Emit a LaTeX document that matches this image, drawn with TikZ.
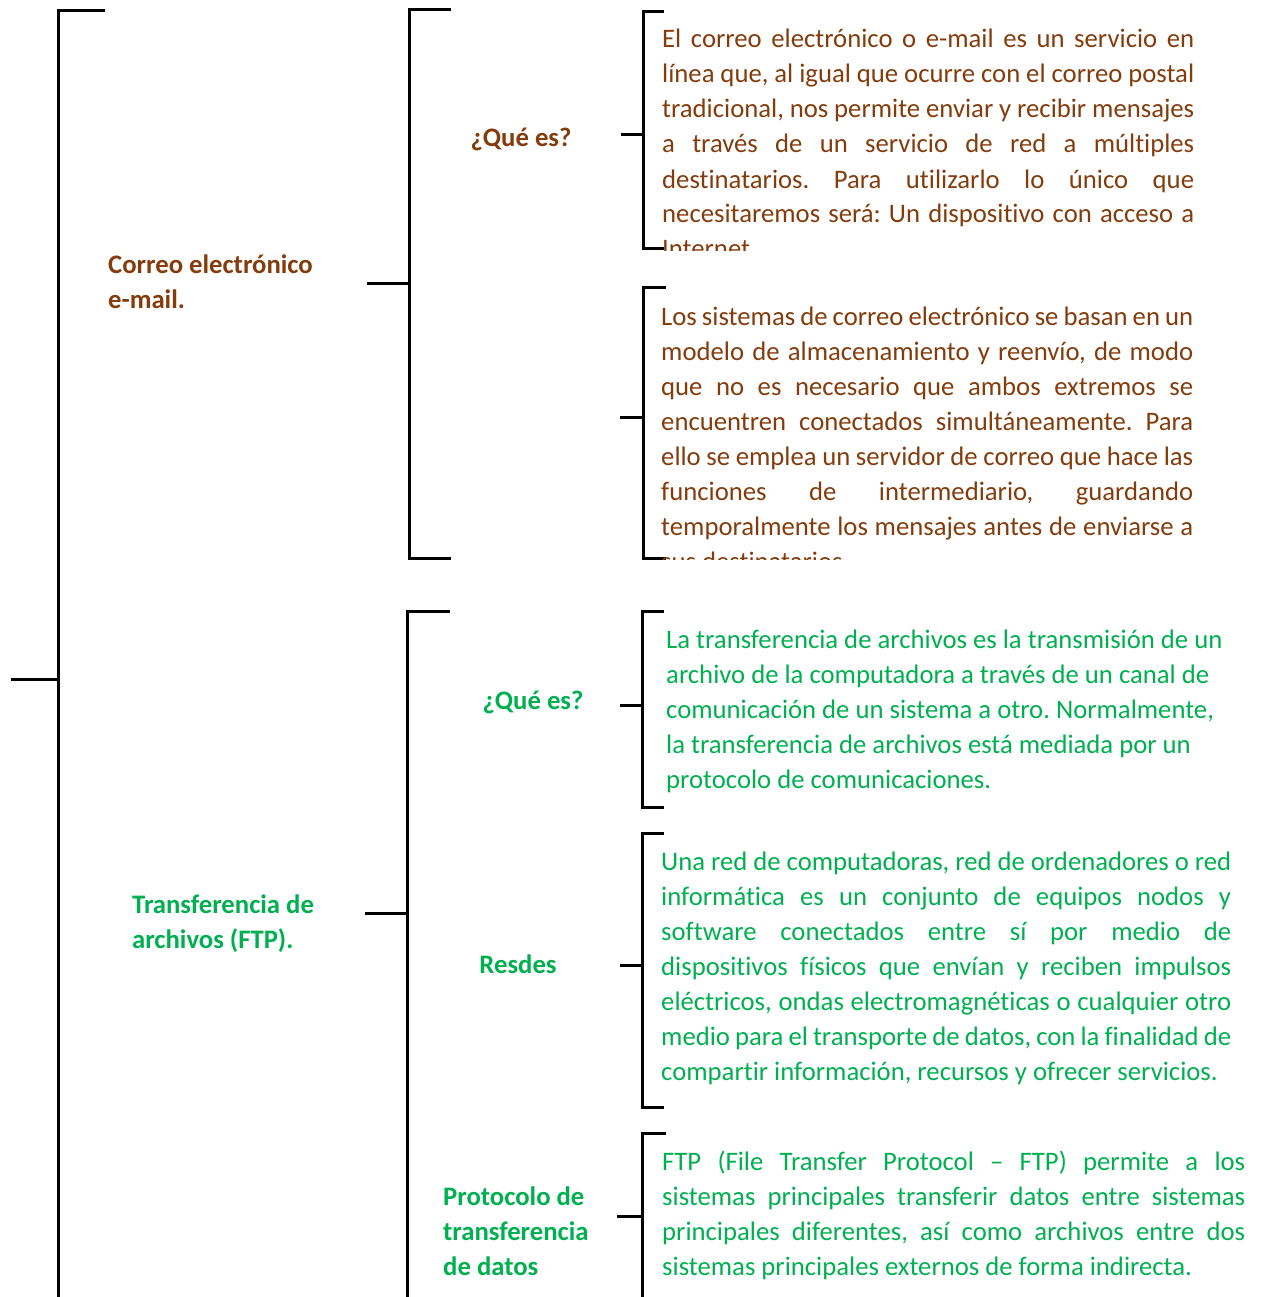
\documentclass[tikz,border=0pt]{standalone}
\usepackage{fontspec}
\setmainfont{Carlito}[Ligatures=NoCommon]
\frenchspacing
\definecolor{brn}{HTML}{843C0C}
\definecolor{grn}{HTML}{00B050}
\newcommand{\jl}[2]{\makebox[#1][s]{#2}}
\tikzset{
  br/.style={line width=3pt, black},
  para/.style={anchor=base west, inner sep=0pt, align=left, font=\fontsize{26.7}{35}\selectfont},
  head/.style={inner sep=0pt, align=left, font=\fontsize{26.7}{35}\selectfont\bfseries},
}
\begin{document}
\begin{tikzpicture}[x=1pt,y=-1pt]
\useasboundingbox (0,0) rectangle (1261,1297);
% ---------- brackets ----------
% main
\coordinate (m0) at (11,679);
\draw[br] (105,11) -- (58,11) -- (58,1300);
\draw[br] (m0) -- (58,679);
% correo
\draw[br] (451,10) -- (409,10) -- (409,558) -- (451,558);
\draw[br] (367,283) -- (409,283);
% que es 1
\draw[br] (664,12) -- (643,12) -- (643,248) -- (664,248);
\draw[br] (621,135) -- (643,135);
% modelo
\draw[br] (666,287) -- (643,287) -- (643,558) -- (666,558);
\draw[br] (620,417) -- (643,417);
% FTP
\draw[br] (450,611) -- (407,611) -- (407,1300);
\draw[br] (365,913) -- (407,913);
% que es 2
\draw[br] (664,611) -- (642,611) -- (642,807) -- (664,807);
\draw[br] (620,705) -- (642,705);
% redes
\draw[br] (664,833) -- (642,833) -- (642,1107) -- (664,1107);
\draw[br] (620,965) -- (642,965);
% protocolo
\draw[br] (666,1133) -- (642,1133) -- (642,1300);
\draw[br] (617,1216) -- (642,1216);

% ---------- headings (anchor = baseline of last line) ----------
\node[head, text=brn, anchor=base west] (h1) at (108,308) {Correo electrónico\\e-mail.};
\node[head, text=brn, anchor=base] (q1) at (521,147) {¿Qué es?};
\node[head, text=grn, anchor=base west] (h2) at (132,948) {Transferencia de\\archivos (FTP).};
\node[head, text=grn, anchor=base] (q2) at (533,709) {¿Qué es?};
\node[head, text=grn, anchor=base] (q3) at (518,973) {Resdes};
\node[head, text=grn, anchor=base west] (q4) at (443,1275) {Protocolo de\\transferencia\\de datos};

% ---------- paragraphs (anchor = baseline of last line) ----------
\begin{scope}
\clip (600,0) rectangle (1261,250);
\node[para, text=brn] (p1) at (662,258) {%
\jl{532pt}{El correo electrónico o e-mail es un servicio en}\\
\jl{532pt}{línea que, al igual que ocurre con el correo postal}\\
\jl{532pt}{tradicional, nos permite enviar y recibir mensajes}\\
\jl{532pt}{a través de un servicio de red a múltiples}\\
\jl{532pt}{destinatarios. Para utilizarlo lo único que}\\
\jl{532pt}{necesitaremos será: Un dispositivo con acceso a}\\
Internet};
\end{scope}

\begin{scope}
\clip (600,260) rectangle (1261,559);
\node[para, text=brn] (p2) at (661,570) {%
\jl{532pt}{Los sistemas de correo electrónico se basan en un}\\
\jl{532pt}{modelo de almacenamiento y reenvío, de modo}\\
\jl{532pt}{que no es necesario que ambos extremos se}\\
\jl{532pt}{encuentren conectados simultáneamente. Para}\\
\jl{532pt}{ello se emplea un servidor de correo que hace las}\\
\jl{532pt}{funciones de intermediario, guardando}\\
\jl{532pt}{temporalmente los mensajes antes de enviarse a}\\
sus destinatarios.};
\end{scope}

\node[para, text=grn] (p3) at (666,788) {%
La transferencia de archivos es la transmisión de un\\
archivo de la computadora a través de un canal de\\
comunicación de un sistema a otro. Normalmente,\\
la transferencia de archivos está mediada por un\\
protocolo de comunicaciones.};

\node[para, text=grn] (p4) at (661,1080) {%
\jl{570pt}{Una red de computadoras, red de ordenadores o red}\\
\jl{570pt}{informática es un conjunto de equipos nodos y}\\
\jl{570pt}{software conectados entre sí por medio de}\\
\jl{570pt}{dispositivos físicos que envían y reciben impulsos}\\
\jl{570pt}{eléctricos, ondas electromagnéticas o cualquier otro}\\
\jl{570pt}{medio para el transporte de datos, con la finalidad de}\\
compartir información, recursos y ofrecer servicios.};

\node[para, text=grn] (p5) at (662,1275) {%
\jl{583pt}{FTP (File Transfer Protocol – FTP) permite a los}\\
\jl{583pt}{sistemas principales transferir datos entre sistemas}\\
\jl{583pt}{principales diferentes, así como archivos entre dos}\\
sistemas principales externos de forma indirecta.};
\end{tikzpicture}
\end{document}
